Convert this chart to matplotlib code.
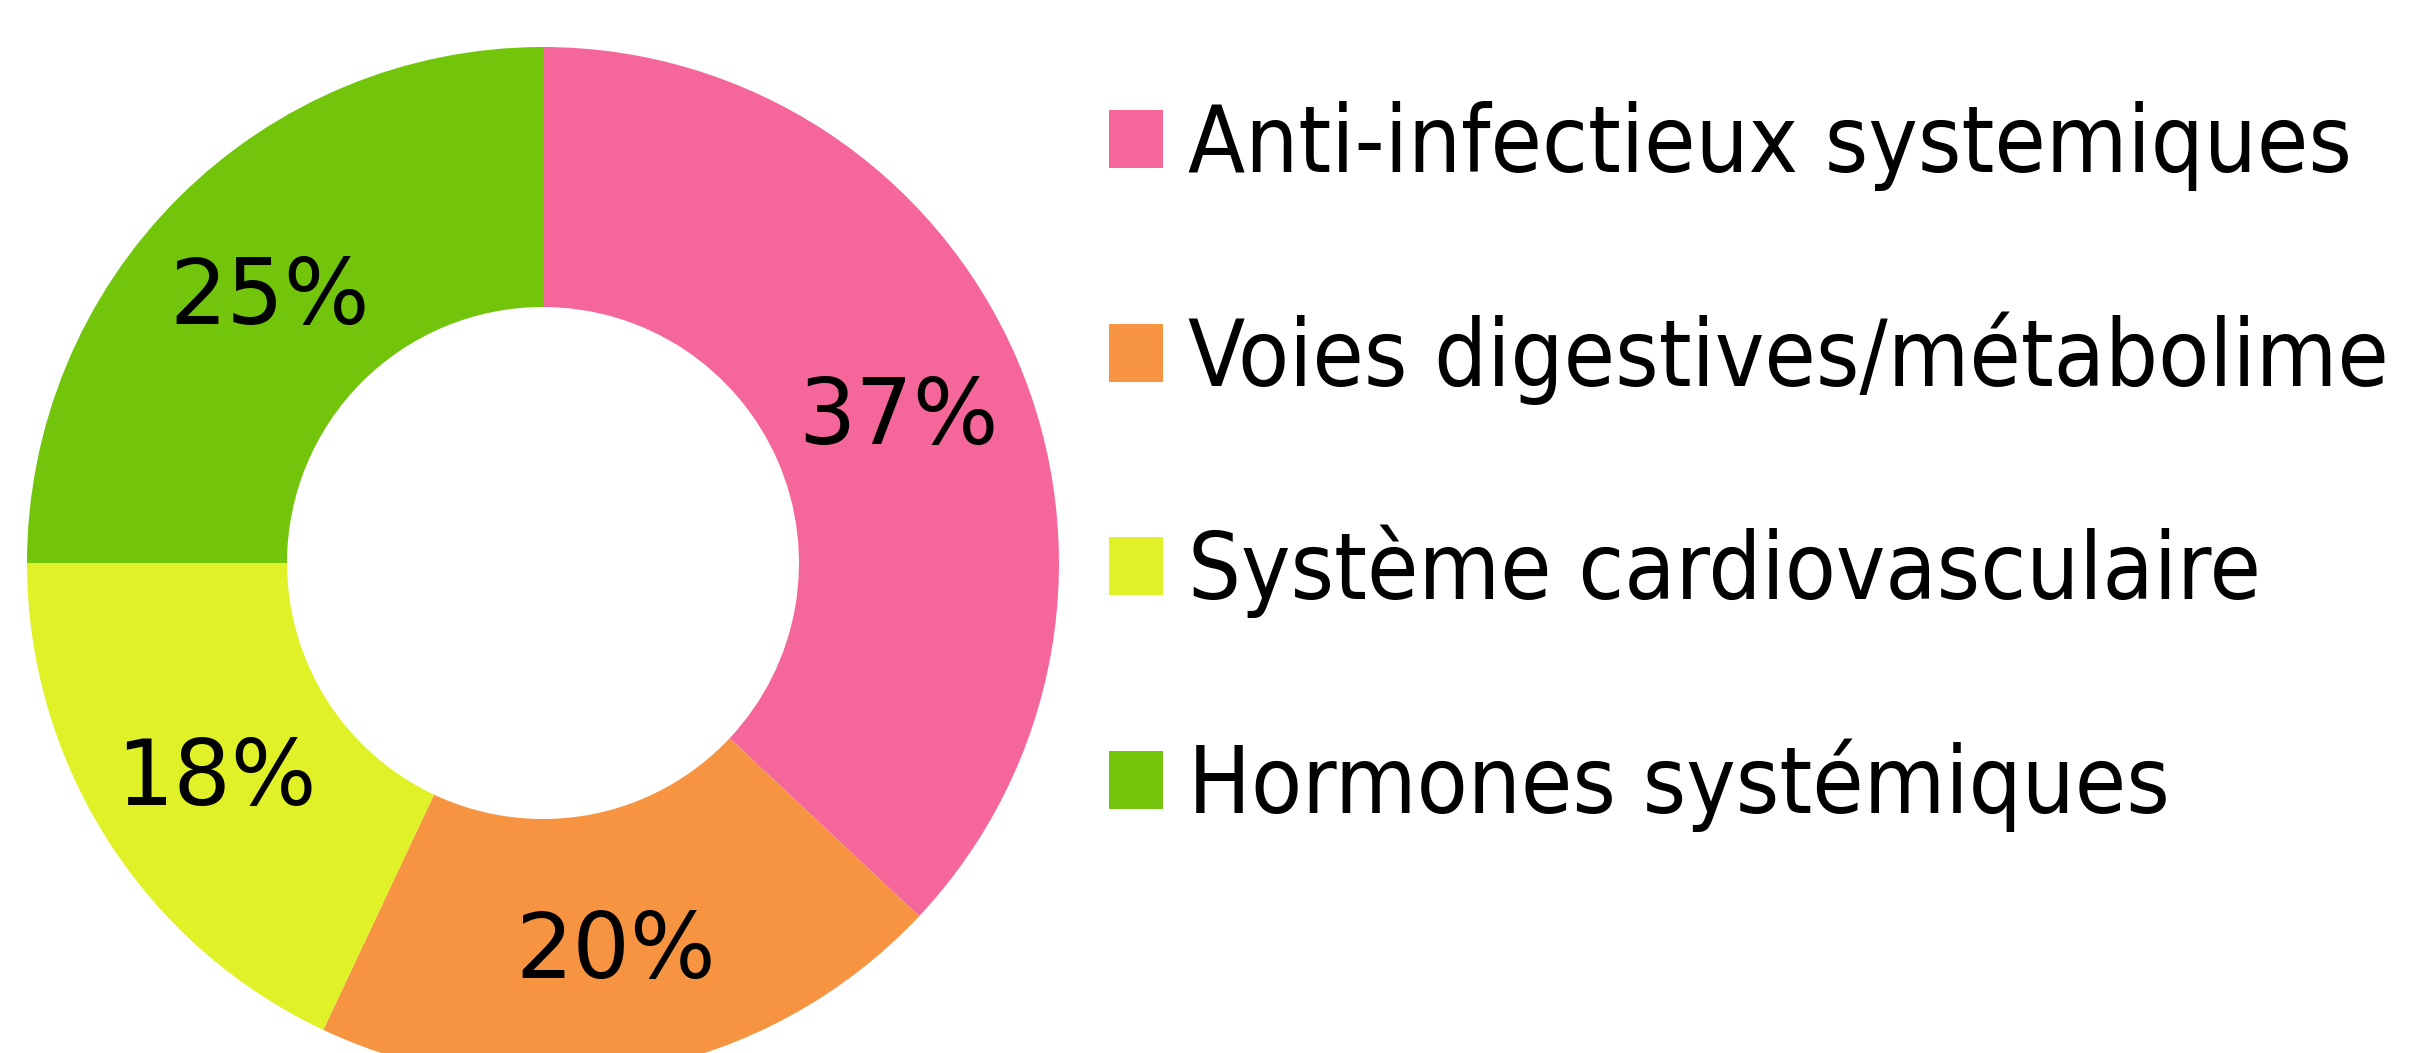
import matplotlib.pyplot as plt

# Répartition par classe thérapeutique
categories = ["Anti-infectieux systemiques", "Voies digestives/métabolime",
              "Système cardiovasculaire", "Hormones systémiques"]
values = [37, 20, 18, 25]
colors = ["#F5679A", "#F69441", "#E0F227", "#72C50B"]

W, H = 2409, 1053
fig = plt.figure(figsize=(W / 100, H / 100), dpi=100)
ax = fig.add_axes([0, 0, 1, 1])
ax.set_xlim(0, W)
ax.set_ylim(0, H)
ax.set_aspect('equal')
ax.axis('off')

R = 516
wedges, texts, autotexts = ax.pie(
    values, colors=colors, startangle=90, counterclock=False,
    center=(543, H - 563), radius=R,
    autopct='%d%%', pctdistance=0.75,
    wedgeprops=dict(width=R - 256, linewidth=0),
    textprops=dict(fontsize=65, color='black', family='DejaVu Sans'))
ax.set_xlim(0, W)
ax.set_ylim(0, H)
for t in autotexts:
    x, y = t.get_position()
    t.set_position((x, y - 10))

leg = fig.legend(wedges, categories, loc='upper left',
                 bbox_to_anchor=(1109 / W, 1 - 101 / H),
                 frameon=False,
                 prop=dict(family='DejaVu Sans', size=67, stretch='condensed'),
                 handlelength=0.58, handleheight=0.58, handletextpad=0.27,
                 labelspacing=1.29, borderaxespad=0, borderpad=0)

fig.savefig('out.png', dpi=100)
